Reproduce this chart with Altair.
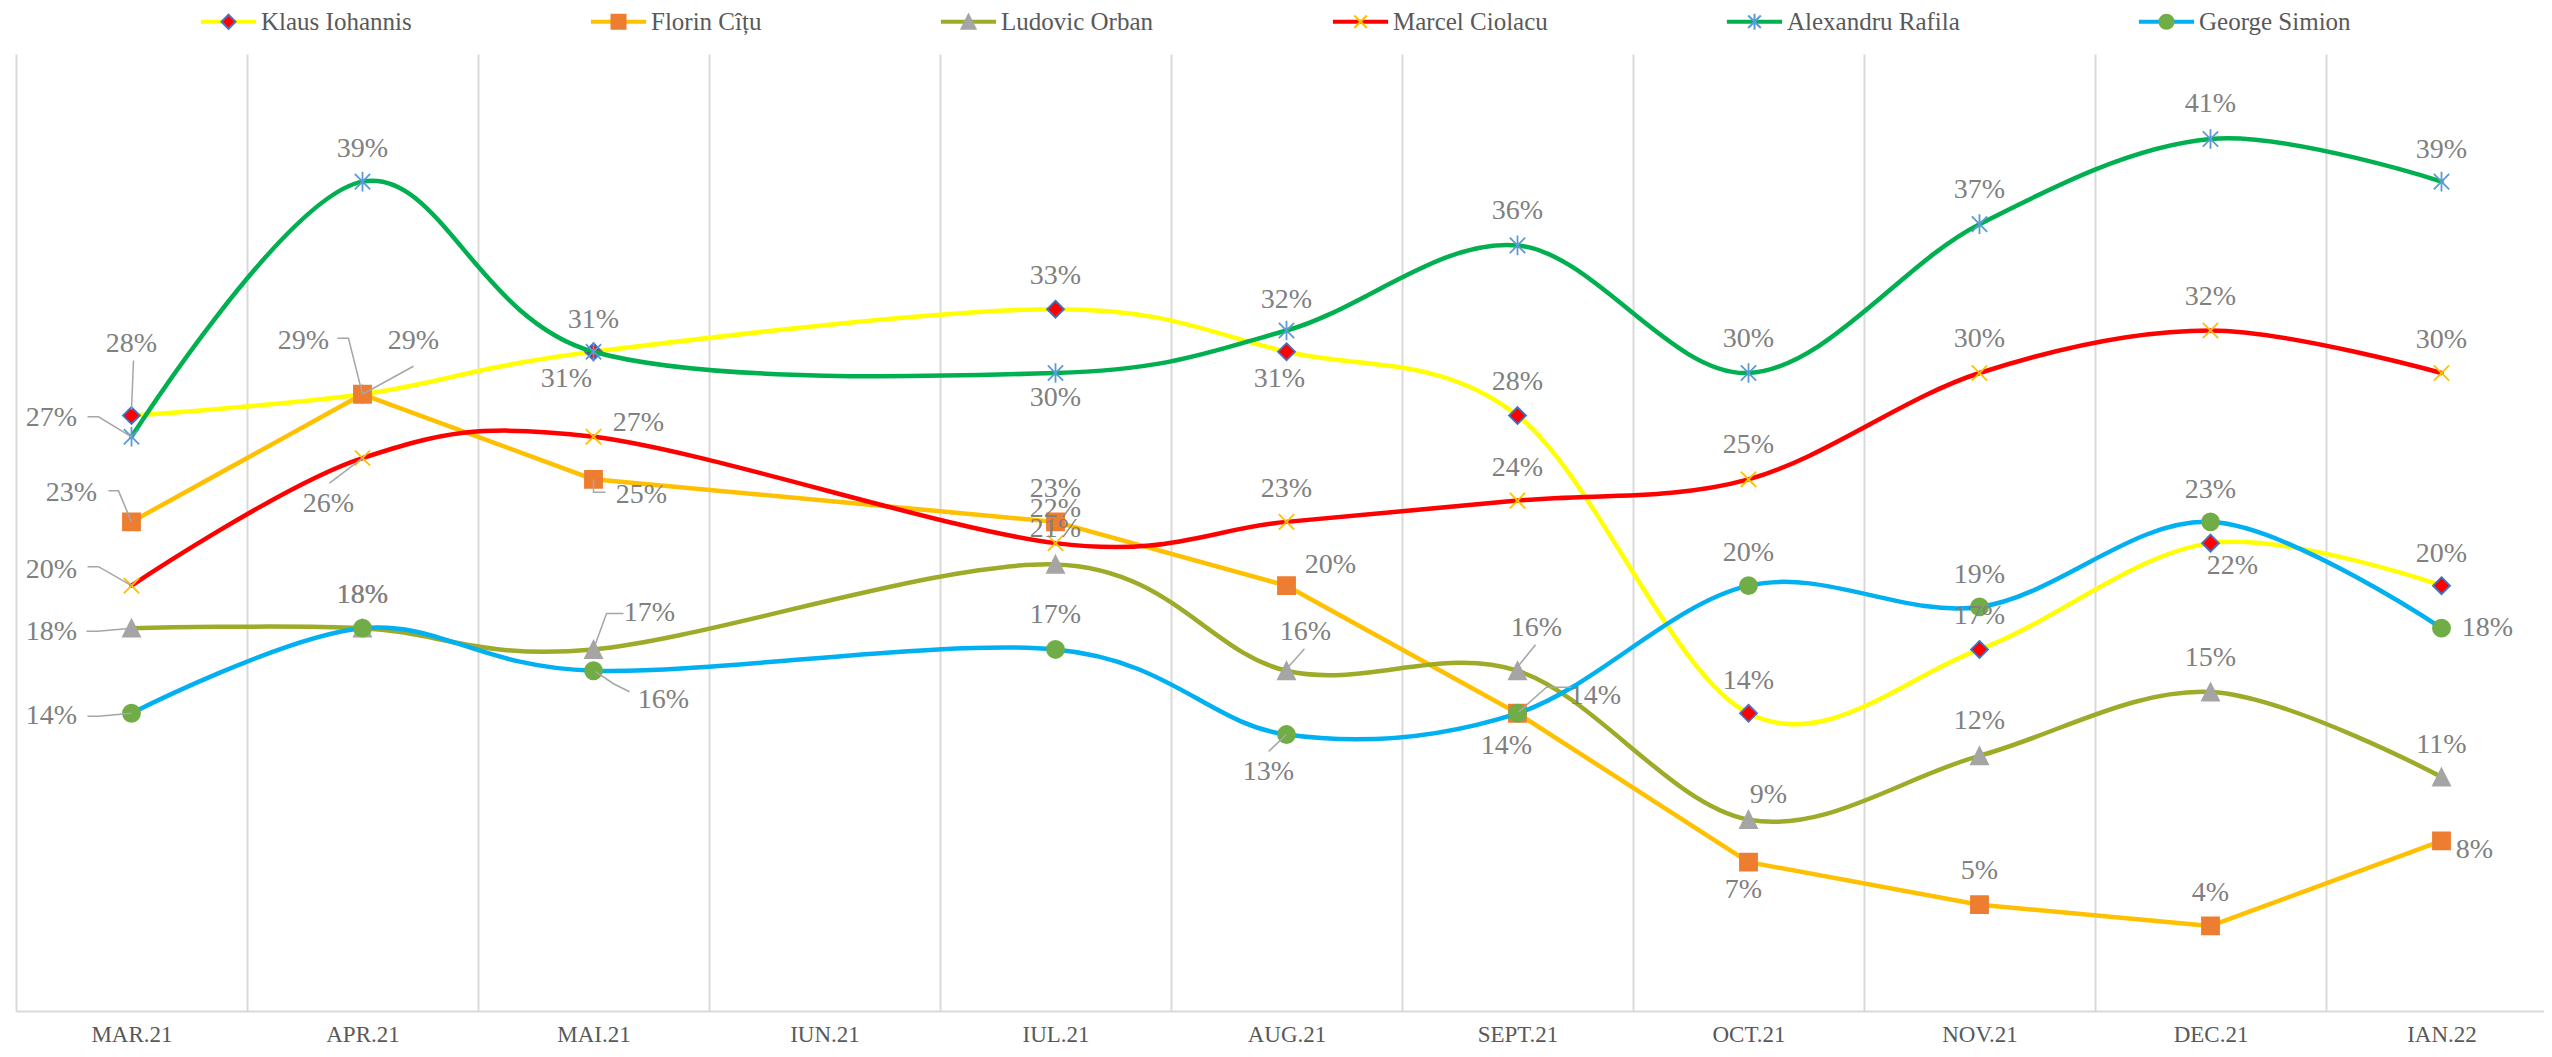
import altair as alt
import pandas as pd

# ---------------- data ----------------
months = ["MAR.21", "APR.21", "MAI.21", "IUN.21", "IUL.21", "AUG.21",
          "SEPT.21", "OCT.21", "NOV.21", "DEC.21", "IAN.22"]
series_names = ["Klaus Iohannis", "Florin Cîțu", "Ludovic Orban",
                "Marcel Ciolacu", "Alexandru Rafila", "George Simion"]

iohannis = [28, 29, 31, None, 33, 31, 28, 14, 17, 22, 20]
citu = [23, 29, 25, None, 23, 20, 14, 7, 5, 4, 8]
orban = [18, 18, 17, None, 21, 16, 16, 9, 12, 15, 11]
ciolacu = [20, 26, 27, None, 22, 23, 24, 25, 30, 32, 30]
rafila = [27, 39, 31, None, 30, 32, 36, 30, 37, 41, 39]
simion = [14, 18, 16, None, 17, 13, 14, 20, 19, 23, 18]
series_values = [iohannis, citu, orban, ciolacu, rafila, simion]

# ---------------- styles ----------------
line_colors = ["#FFFF00", "#FFC000", "#9DAB28", "#FF0000", "#00B050", "#00B0F0"]
marker_fill = ["#FF0000", "#ED7D31", "#A5A5A5", "#FFC000", "#5B9BD5", "#70AD47"]
marker_stroke = ["#4472C4", "#ED7D31", "#A5A5A5", "#FFC000", "#5B9BD5", "#70AD47"]
smooth = [True, False, True, True, True, True]
PRE = "M-3.8,0M3.8,0"
marker_paths = [
    PRE + "M0,-1L1,0L0,1L-1,0Z",
    PRE + "M-1,-1H1V1H-1Z",
    PRE + "M0,-1L1,1H-1Z",
    PRE + "M-0.9,-0.9L0.9,0.9M-0.9,0.9L0.9,-0.9",
    PRE + "M-0.9,-0.9L0.9,0.9M-0.9,0.9L0.9,-0.9M0,-1.15L0,1.15",
    PRE + "M-1,0A1,1,0,1,1,1,0A1,1,0,1,1,-1,0Z",
]
LEGEND_LINE = "M-3.8,-0.16H3.8V0.16H-3.8Z"

# data-label placement (pixel offsets from the point), None where no value
label_offsets = [
    [(0, -72), (51, -53), (-27, 27), None, (0, -33), (-7, 27), (0, -34), (0, -32), (0, -33), (22, 23), (0, -32)],
    [(-60, -29), (-59, -53), (48, 16), None, (0, -33), (44, -21), (-11, 33), (-5, 28), (0, -34), (0, -33), (33, 9)],
    [(-80, 4), (0, -33), (56, -36), None, (0, -35), (19, -39), (19, -43), (20, -25), (0, -35), (0, -34), (0, -32)],
    [(-80, -16), (-34, 46), (45, -14), None, (0, -34), (0, -33), (0, -33), (0, -34), (0, -34), (0, -33), (0, -33)],
    [(-80, -19), (0, -33), (0, -32), None, (0, 25), (0, -30), (0, -34), (0, -34), (0, -34), (0, -35), (0, -32)],
    [(-80, 3), (0, -33), (70, 29), None, (0, -34), (-18, 37), (78, -17), (0, -33), (0, -32), (0, -32), (46, 0)],
]

# leader lines: (series, month index, path of offsets from the point)
leaders = [
    (0, 0, [(2, -55), (0, -6)]),
    (0, 1, [(51, -28), (0, 0)]),
    (1, 1, [(-25, -56), (-14, -56), (0, 0)]),
    (1, 0, [(-23, -31), (-13, -31), (0, 0)]),
    (1, 2, [(12, 13), (0, 13), (0, 0)]),
    (2, 0, [(-45, 3), (-34, 3), (0, 0)]),
    (2, 2, [(30, -36), (13, -36), (1, -3)]),
    (2, 5, [(18, -22), (2, -4)]),
    (2, 6, [(18, -26), (1, -5)]),
    (3, 0, [(-44, -19), (-33, -19), (0, 0)]),
    (3, 1, [(-33, 25), (0, 0)]),
    (4, 0, [(-44, -20), (-33, -20), (0, 0)]),
    (5, 0, [(-44, 3), (-33, 3), (0, 0)]),
    (5, 2, [(36, 21), (20, 13), (2, 1)]),
    (5, 5, [(-18, 17), (0, 0)]),
    (5, 6, [(54, -26), (29, -26), (1, -1)]),
]

rows = []
for si, name in enumerate(series_names):
    for mi, m in enumerate(months):
        v = series_values[si][mi]
        if v is None:
            continue
        dx, dy = label_offsets[si][mi]
        rows.append(dict(series=name, month=m, mi=mi, value=v,
                         label=f"{v}%", dx=dx, dy=dy))
df = pd.DataFrame(rows)

lrows = []
for lid, (si, mi, path) in enumerate(leaders):
    for k, (dx, dy) in enumerate(path):
        lrows.append(dict(lid=lid, k=k, month=months[mi],
                          value=series_values[si][mi], dx=dx, dy=dy))
ldf = pd.DataFrame(lrows)

# ---------------- encodings ----------------
SERIF = "Liberation Serif"
x_axis = alt.Axis(title=None, labelFont=SERIF, labelFontSize=23, labelColor="#595959",
                  labelPadding=23, labelBaseline="middle", labelAngle=0, ticks=False,
                  domainColor="#D9D9D9", domainWidth=2, grid=True, gridColor="#D9D9D9",
                  gridWidth=2, tickBand="extent")
x_enc = alt.X("month:O", sort=months,
              scale=alt.Scale(type="band", domain=months, range=[0, 2541],
                              paddingInner=0, paddingOuter=0),
              axis=x_axis, bandPosition=0.5)
y_enc = alt.Y("value:Q", scale=alt.Scale(domain=[0, 45], nice=False, zero=True), axis=None)

common_leg = dict(orient="none", legendX=186, legendY=-45, direction="horizontal",
                  columns=6, title=None, labelFont=SERIF, labelFontSize=25,
                  labelColor="#595959", labelOffset=20, symbolOffset=14, labelLimit=0,
                  columnPadding=175, padding=0, symbolSize=196, symbolStrokeWidth=2)
line_legend = alt.Legend(symbolType=LEGEND_LINE, labelOpacity=0,
                         zindex=1, values=series_names, **common_leg)
marker_legend = alt.Legend(zindex=2, **common_leg)

color_scale = alt.Scale(domain=series_names + ["~"], range=line_colors + ["#ffffff"])
shape_scale = alt.Scale(domain=series_names, range=marker_paths)
fill_scale = alt.Scale(domain=series_names, range=marker_fill)
stroke_scale = alt.Scale(domain=series_names, range=marker_stroke)

layers = []
for si, name in enumerate(series_names):
    base = alt.Chart(df).transform_filter(alt.datum.series == name)
    line = base.mark_line(interpolate="cardinal" if smooth[si] else "linear",
                          strokeWidth=4.5, strokeCap="round", strokeJoin="round").encode(
        x=x_enc, y=y_enc, order=alt.Order("mi:Q"),
        color=alt.Color("series:N", scale=color_scale, legend=line_legend))
    pts = base.mark_point(filled=True, size=290, opacity=1, strokeWidth=1.8).encode(
        x=x_enc, y=y_enc,
        shape=alt.Shape("series:N", scale=shape_scale, legend=marker_legend),
        fill=alt.Fill("series:N", scale=fill_scale, legend=marker_legend),
        stroke=alt.Stroke("series:N", scale=stroke_scale, legend=marker_legend))
    layers += [line, pts]

lead = alt.Chart(ldf).mark_line(
    color="#A6A6A6", strokeWidth=1.5, interpolate="linear",
    xOffset=alt.expr("datum.dx"), yOffset=alt.expr("datum.dy")).encode(
    x=x_enc, y=y_enc, detail="lid:N", order=alt.Order("k:Q"))

labels = alt.Chart(df).mark_text(
    font=SERIF, fontSize=28, color="#808080", baseline="middle", align="center",
    dx=alt.expr("datum.dx"), dy=alt.expr("datum.dy")).encode(
    x=x_enc, y=y_enc, text="label:N")

chart = alt.layer(*layers, lead, labels).properties(
    width=2528, height=957,
    autosize=alt.AutoSizeParams(type="none"),
    padding={"left": 8, "top": 46, "right": 0, "bottom": 36},
    background="white",
).configure_view(strokeWidth=0)

chart.save("out.html", embed_options={"renderer": "svg", "actions": False})
